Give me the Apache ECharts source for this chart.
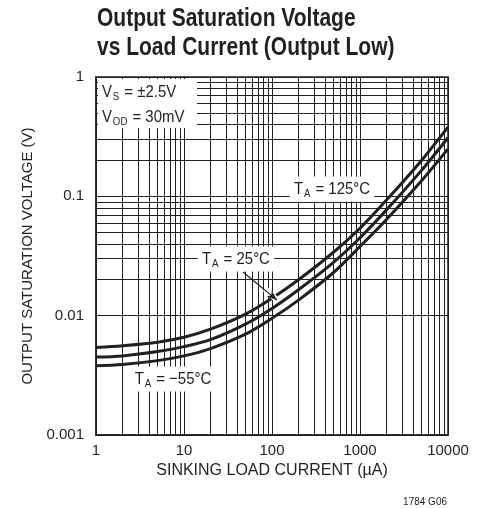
<!DOCTYPE html>
<html>
<head>
<meta charset="utf-8">
<script src="https://cdn.jsdelivr.net/npm/echarts@6/dist/echarts.min.js"></script>
<style>
  html, body { margin: 0; padding: 0; background: #fff; }
  #chart { width: 487px; height: 508px; }
</style>
</head>
<body>
<div id="chart"></div>
<script>
// sinking load current (uA) and output saturation voltage (V)
const currents = [1, 2, 5, 10, 20, 50, 100, 200, 500, 1000, 2000, 5000, 10000];
const vsat125 = [0.0054, 0.0056, 0.006, 0.0066, 0.0077, 0.0103, 0.014, 0.020, 0.034, 0.054, 0.093, 0.20, 0.38];
const vsat25 = [0.0045, 0.0046, 0.005, 0.0055, 0.0063, 0.0085, 0.0115, 0.0165, 0.028, 0.045, 0.077, 0.165, 0.31];
const vsatM55 = [0.0038, 0.0039, 0.0042, 0.0046, 0.0053, 0.007, 0.0095, 0.0135, 0.023, 0.038, 0.064, 0.135, 0.25];

const xTickLabels = ['1', '10', '100', '1000', '10000'];
const yTickLabels = ['0.001', '0.01', '0.1', '1'];

const FONT = '"Liberation Sans", Arial, sans-serif';
const INK = '#231f20';

function pairs(ys) {
  return currents.map((x, i) => [x, ys[i]]);
}

// log paper: lines at 2..9 inside every decade
const steps = [2, 3, 4, 5, 6, 7, 8, 9];
const xMinor = [];
[1, 10, 100, 1000].forEach(d => steps.forEach(s => xMinor.push({ xAxis: d * s })));
const yMinor = [];
[0.001, 0.01, 0.1].forEach(d => steps.forEach(s => yMinor.push({ yAxis: +(d * s).toPrecision(3) })));

const rich = {
  t: { fontFamily: FONT, fontSize: 17, fill: INK },
  s: { fontFamily: FONT, fontSize: 11, fill: INK, padding: [9, 1, 0, 1] }
};

function curve(name, ys) {
  return {
    name: name,
    type: 'line',
    data: pairs(ys),
    smooth: 0.3,
    symbol: 'none',
    z: 3,
    lineStyle: { color: INK, width: 3 }
  };
}

// condensed look: plain text squeezed horizontally
function label(x, y, text, extra) {
  return Object.assign({
    type: 'text', z: 101, x: x, y: y, scaleX: 0.88,
    style: Object.assign({ text: text, rich: rich, verticalAlign: 'middle' }, extra || {})
  });
}

const boxed = { backgroundColor: '#fff', padding: [3, 5, 2, 5], align: 'center' };

const chart = echarts.init(document.getElementById('chart'));
chart.setOption({
  animation: false,
  grid: {
    left: 96, right: 39, top: 77, bottom: 73,
    show: true,
    borderColor: INK,
    borderWidth: 1.5
  },
  xAxis: {
    type: 'log',
    logBase: 10,
    min: 1,
    max: 10000,
    splitNumber: 4,
    name: 'SINKING LOAD CURRENT (µA)',
    nameLocation: 'middle',
    nameGap: 25,
    nameTextStyle: { fontFamily: FONT, fontSize: 16, color: INK },
    axisLine: { lineStyle: { color: INK, width: 1.5 } },
    axisTick: { show: false },
    axisLabel: {
      margin: 8,
      fontFamily: FONT,
      fontSize: 15,
      color: INK,
      formatter: v => xTickLabels[Math.round(Math.log10(v))]
    },
    splitLine: { show: true, lineStyle: { color: INK, width: 1 } }
  },
  yAxis: {
    type: 'log',
    logBase: 10,
    min: 0.001,
    max: 1,
    splitNumber: 3,
    name: 'OUTPUT SATURATION VOLTAGE (V)',
    nameLocation: 'middle',
    nameGap: 55,
    nameTextStyle: { fontFamily: FONT, fontSize: 15, color: INK },
    axisLine: { lineStyle: { color: INK, width: 1.5 } },
    axisTick: { show: false },
    axisLabel: {
      margin: 12,
      fontFamily: FONT,
      fontSize: 15,
      color: INK,
      formatter: v => yTickLabels[Math.round(Math.log10(v)) + 3]
    },
    splitLine: { show: true, lineStyle: { color: INK, width: 1 } }
  },
  series: [
    {
      name: 'grid',
      type: 'line',
      data: [],
      silent: true,
      z: 1,
      markLine: {
        silent: true,
        symbol: 'none',
        label: { show: false },
        lineStyle: { color: INK, width: 1, type: 'solid' },
        data: xMinor.concat(yMinor)
      }
    },
    curve('125', vsat125),
    curve('25', vsat25),
    curve('-55', vsatM55),
    {
      name: 'arrow',
      type: 'line',
      data: [],
      silent: true,
      z: 5,
      markLine: {
        silent: true,
        label: { show: false },
        data: [
          [
            { coord: [83, 0.0167], symbol: 'none', lineStyle: { color: '#fff', width: 6, type: 'solid' } },
            { coord: [114, 0.0135], symbol: 'none' }
          ],
          [
            { coord: [46.8, 0.0232], symbol: 'none', lineStyle: { color: INK, width: 1.2, type: 'solid' } },
            { coord: [114, 0.0135], symbol: 'arrow', symbolSize: [6, 10] }
          ]
        ]
      }
    }
  ],
  graphic: [
    {
      type: 'text', z: 101, x: 97, y: 5, scaleX: 0.84,
      style: {
        text: 'Output Saturation Voltage\nvs Load Current (Output Low)',
        fontFamily: FONT, fontWeight: 'bold', fontSize: 25, lineHeight: 29,
        fill: INK
      }
    },
    { type: 'rect', z: 100, shape: { x: 98, y: 79, width: 99, height: 49 }, style: { fill: '#fff' } },
    label(102, 92, '{t|V}{s|S}{t| = ±2.5V}'),
    label(102, 117, '{t|V}{s|OD}{t| = 30mV}'),
    label(332, 189, '{t|T}{s|A}{t| = 125°C}', boxed),
    label(236, 259, '{t|T}{s|A}{t| = 25°C}', boxed),
    label(173, 379, '{t|T}{s|A}{t| = −55°C}', boxed),
    {
      type: 'text', z: 101, x: 447, y: 502,
      style: {
        text: '1784 G06', fontFamily: FONT, fontSize: 10, fill: INK,
        align: 'right', verticalAlign: 'middle'
      }
    }
  ]
});
</script>
</body>
</html>
